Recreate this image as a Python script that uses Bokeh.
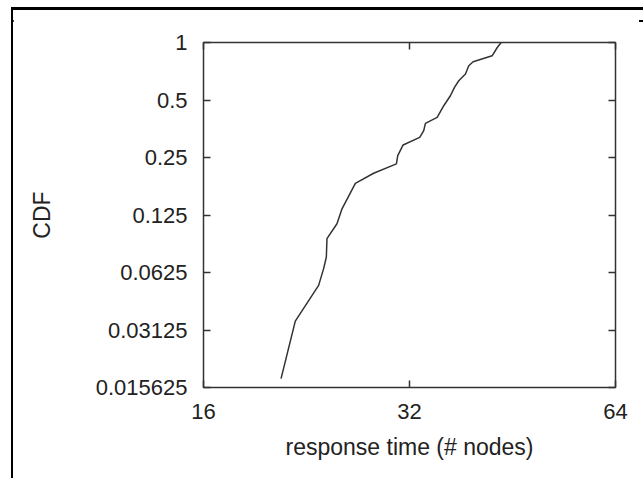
from bokeh.plotting import figure
from bokeh.models import LogAxis, FixedTicker, CustomJSTickFormatter, Range1d, Div
from bokeh.layouts import column
from bokeh.embed import file_html
from bokeh.resources import INLINE

# data
response_time = [20.77, 21.79, 23.57, 23.97, 24.19, 24.24, 25.07, 25.50, 26.67, 28.36,
                 30.62, 30.76, 31.32, 33.12, 33.57, 33.76, 35.12, 35.91, 36.72, 37.23,
                 37.77, 38.63, 39.06, 39.64, 42.26, 42.99, 43.57]
cdf = [0.0174, 0.0348, 0.0535, 0.0655, 0.0753, 0.0940, 0.1125, 0.1346, 0.1832, 0.2068,
       0.2316, 0.2558, 0.2908, 0.3186, 0.3457, 0.3772, 0.4055, 0.4667, 0.5264, 0.5817,
       0.6307, 0.6838, 0.7553, 0.7926, 0.8520, 0.9416, 1.0]
x_ticks = [16, 32, 64]
y_ticks = [0.015625, 0.03125, 0.0625, 0.125, 0.25, 0.5, 1]

FONT = "Liberation Sans"
FS = "22px"
TXT = "#222222"

p = figure(width=628, height=468, output_backend="svg", toolbar_location=None,
           x_axis_type="log", y_axis_type="log",
           x_range=Range1d(16, 64), y_range=Range1d(0.015625, 1),
           min_border_left=190, min_border_right=26, min_border_top=32,
           min_border_bottom=91)
p.margin = (0, 0, 0, 11)
p.styles = {"border-left": "2px solid black"}

bar = Div(text='<div style="height:2px;width:632px;background:#000;"></div>',
          width=632, height=2, margin=(8, 0, 0, 11),
          styles={"border-top": "2px solid #000000",
                  "box-shadow": "0 -1px 0 0 #000000"})

p.line(response_time, cdf, line_color="#333333", line_width=1.5)

p.grid.visible = False
p.outline_line_color = "#333333"
p.outline_line_width = 1.5
p.background_fill_color = "white"
p.border_fill_color = "white"

fmt = CustomJSTickFormatter(code="return tick.toString();")

for ax in p.xaxis:
    ax.ticker = FixedTicker(ticks=x_ticks, minor_ticks=[])
for ax in p.yaxis:
    ax.ticker = FixedTicker(ticks=y_ticks, minor_ticks=[])

def style(ax):
    ax.axis_line_color = None
    ax.major_tick_in = 7
    ax.major_tick_out = 0
    ax.major_tick_line_color = "#333333"
    ax.major_tick_line_width = 1.5
    ax.minor_tick_line_color = None
    ax.major_label_text_font = FONT
    ax.major_label_text_font_size = FS
    ax.major_label_text_color = TXT
    ax.axis_label_text_font = FONT
    ax.axis_label_text_font_size = "23px"
    ax.axis_label_text_font_style = "normal"
    ax.axis_label_text_color = TXT
    ax.formatter = fmt

for ax in p.xaxis + p.yaxis:
    style(ax)

p.xaxis.axis_label = "response time (# nodes)"
p.xaxis.major_label_standoff = 16
p.xaxis.axis_label_standoff = 12
p.yaxis.axis_label = "CDF"
p.yaxis.major_label_standoff = 16
p.yaxis.axis_label_standoff = 38

top = LogAxis(ticker=FixedTicker(ticks=x_ticks, minor_ticks=[]))
right = LogAxis(ticker=FixedTicker(ticks=y_ticks, minor_ticks=[]))
for ax in (top, right):
    style(ax)
    ax.major_label_text_font_size = "0px"
    ax.major_label_text_color = None
p.add_layout(top, "above")
p.add_layout(right, "right")

layout = column(bar, p, spacing=0)

open("out.html", "w").write(file_html(layout, INLINE))
